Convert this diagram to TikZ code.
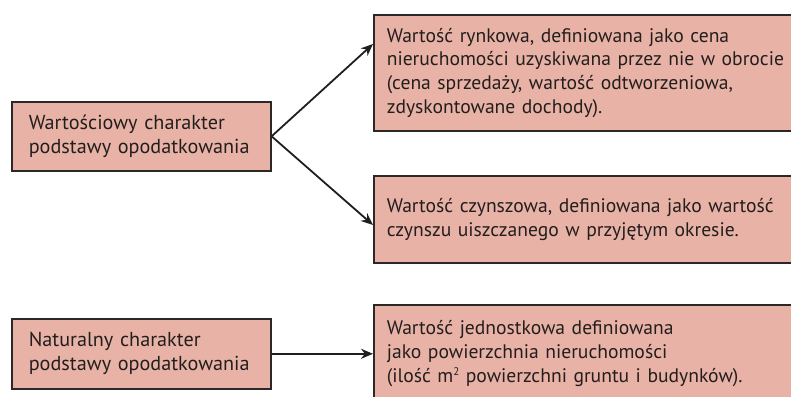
\documentclass[tikz,border=0pt]{standalone}
\usepackage{fontspec}
\setmainfont{PT Sans}
\usetikzlibrary{arrows.meta,calc}
\definecolor{boxfill}{RGB}{232,179,166}
\definecolor{boxline}{RGB}{45,40,40}
\definecolor{txt}{RGB}{35,30,30}
\tikzset{
  box/.style={draw=boxline, line width=1.6pt, fill=boxfill, rectangle, anchor=north west,
    font=\fontsize{19.6}{23.8}\selectfont, text=txt, align=left, inner ysep=0pt},
  leftbox/.style={box, minimum width=259pt, inner xsep=17pt, text width=225pt,
    font=\fontsize{20.2}{24}\selectfont},
  rightbox/.style={box, minimum width=440pt, inner xsep=13pt, text width=414pt},
  conn/.style={draw=txt, line width=1.8pt, -{Stealth[length=12pt,width=10pt]}}
}
\newcommand{\sqm}{m{\fontsize{11}{11}\selectfont\raisebox{7pt}{2}}}
\begin{document}
\begin{tikzpicture}[x=1pt,y=-1pt]
\useasboundingbox (0,0) rectangle (791,396);
\clip (0,0) rectangle (791,396);
\node[leftbox, minimum height=69pt] (v) at (11,101) {Wartościowy charakter\\podstawy opodatkowania};
\node[leftbox, minimum height=70pt] (n) at (11,318) {Naturalny charakter\\podstawy opodatkowania};
\node[rightbox, minimum height=116pt] (r) at (373,14) {Wartość rynkowa, definiowana jako cena\\nieruchomości uzyskiwana przez nie w obrocie\\(cena sprzedaży, wartość odtworzeniowa,\\zdyskontowane dochody).};
\node[rightbox, minimum height=87pt] (c) at (373,175) {Wartość czynszowa, definiowana jako wartość\\czynszu uiszczanego w przyjętym okresie.};
\node[rightbox, minimum height=97pt] (j) at (373,304) {Wartość jednostkowa definiowana\\jako powierzchnia nieruchomości\\(ilość \sqm{} powierzchni gruntu i budynków).};
\coordinate (rin) at ($(r.north west)+(0,30)$);
\coordinate (cin) at ($(c.north west)+(0,50)$);
\draw[conn] (v.east) -- (rin);
\draw[conn] (v.east) -- (cin);
\draw[conn] (n.east) -- (n.east -| j.west);
\end{tikzpicture}
\end{document}
